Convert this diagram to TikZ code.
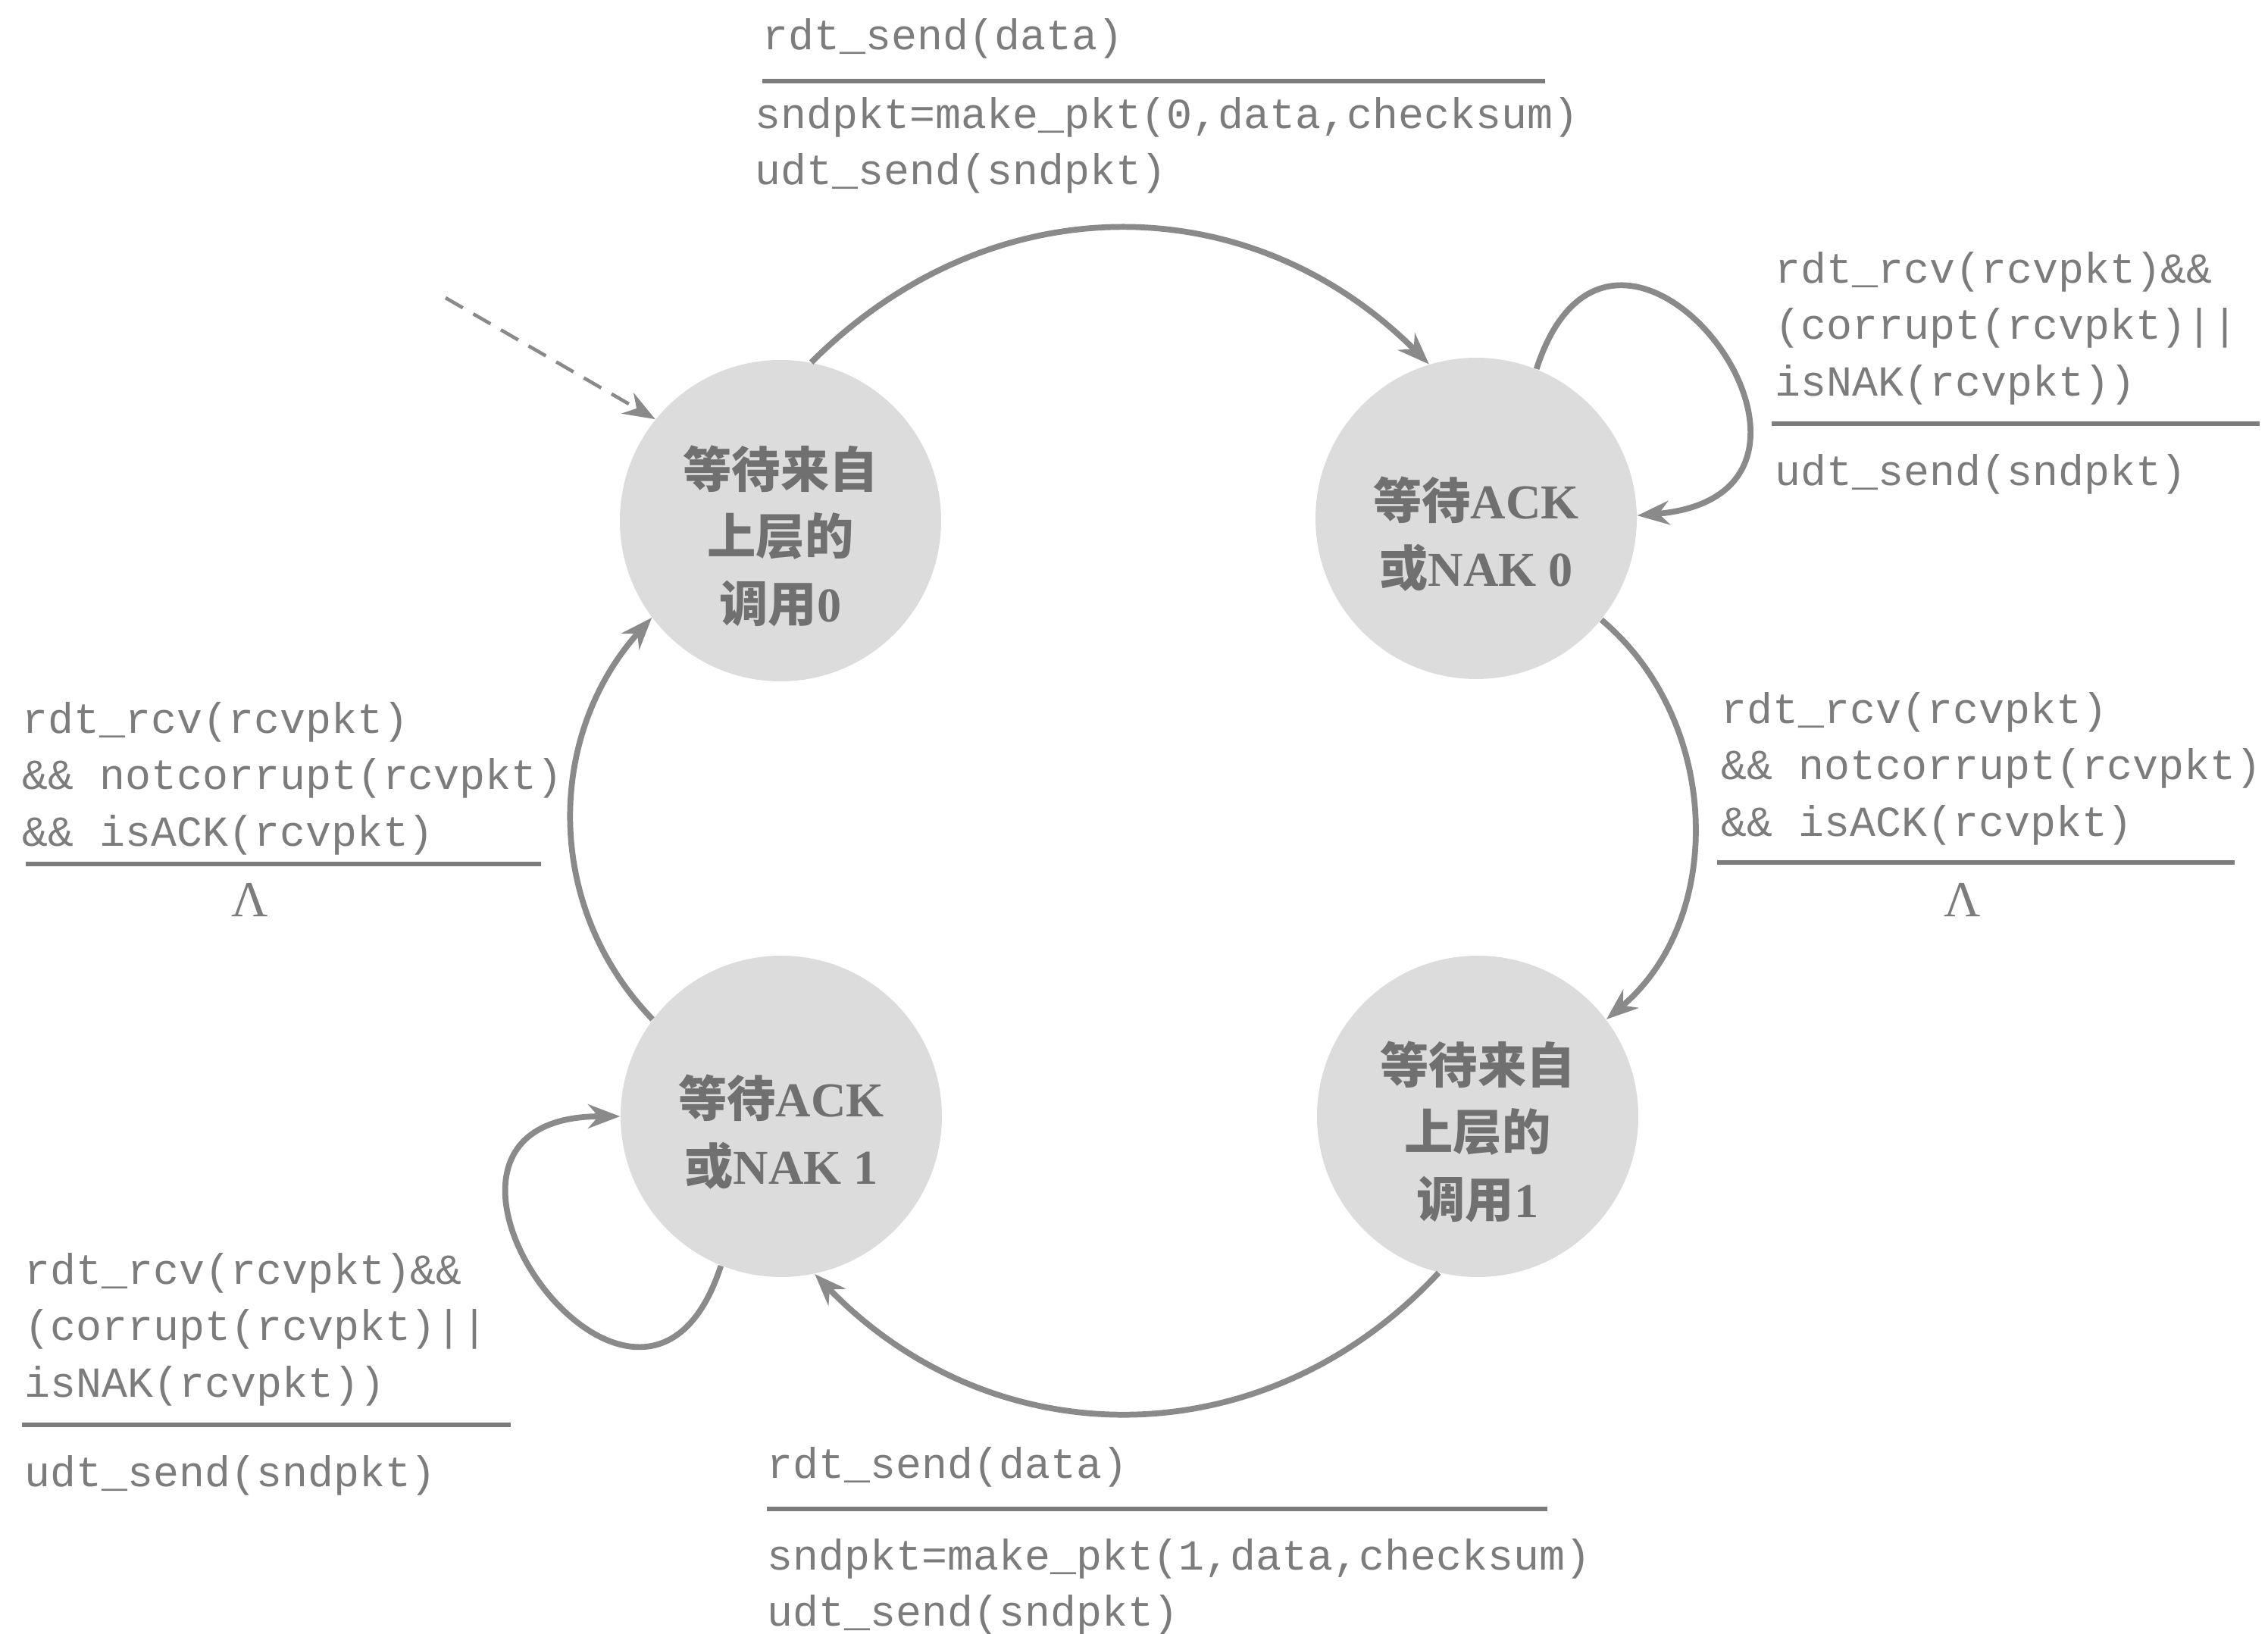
\documentclass[tikz,border=0pt]{standalone}
\usepackage{fontspec}
\setmainfont{Liberation Serif}
\setmonofont{Liberation Mono}
\newfontfamily\cjk{Noto Sans CJK SC}
\usetikzlibrary{arrows.meta,positioning}
\definecolor{fsmGray}{HTML}{8A8A8A}
\definecolor{fsmText}{HTML}{7C7C7C}
\definecolor{fsmFill}{HTML}{DCDCDC}
\definecolor{fsmInk}{HTML}{707070}
% push the state text a little below the centre
\newcommand{\sttop}{\rule{0pt}{1.5em}}

\begin{document}
\begin{tikzpicture}[>={Stealth[length=12pt,width=9pt]},
  state/.style={circle,fill=fsmFill,minimum size=4.24cm,inner sep=0pt,align=center,
    text=fsmInk,font=\fontsize{18.3}{25.2}\selectfont\bfseries},
  trans/.style={->,draw=fsmGray,line width=2.2pt},
  lbl/.style={anchor=west,align=left,inner sep=0pt,text=fsmText,
    font=\ttfamily\fontsize{16.1}{21.2}\selectfont},
  lam/.style={text=fsmText,inner sep=0pt,font=\fontsize{19}{20}\selectfont},
  rule/.style={draw=fsmText,line width=1.6pt}]
\useasboundingbox (0,0) rectangle (29.93,21.56);
% --- states ---
\node[state] (S0) at (10.30,14.69) {\sttop{\cjk 等待来自}\\{\cjk 上层的}\\{\cjk 调用}0};
\node[state] (S1) at (19.48,14.72) {\sttop{\cjk 等待}ACK\\{\cjk 或}NAK 0};
\node[state] (S2) at (19.50,6.83) {\sttop{\cjk 等待来自}\\{\cjk 上层的}\\{\cjk 调用}1};
\node[state] (S3) at (10.31,6.83) {\sttop{\cjk 等待}ACK\\{\cjk 或}NAK 1};
% --- transitions ---
\coordinate (init) at (5.88,17.63);
\draw[->,draw=fsmGray,line width=1.3pt,dash pattern=on 7.5pt off 4.5pt] (init) -- (S0.141);
\draw[trans] (S0.79) to[out=45,in=135,looseness=1.05] (S1.107);
\draw[trans] (S1.-39) to[out=-40,in=40] (S2.37);
\draw[trans] (S2.-104) to[out=-133,in=-46,looseness=1.05] (S3.-78);
\draw[trans] (S3.143) to[out=134,in=-132] (S0.-143);
\draw[trans] (S1.68) to[out=72,in=5,looseness=3.7] (S1.1);
\draw[trans] (S3.-112) to[out=252,in=180,looseness=3.7] (S3.180);
% --- labels ---
\node[lbl] (t0a) at (10.06,21.05) {rdt\_send(data)};
\node[lbl] (t0b) at (9.96,19.64) {sndpkt=make\_pkt(0,data,checksum)\\udt\_send(sndpkt)};
\node[lbl] (t1a) at (23.42,17.23) {rdt\_rcv(rcvpkt)\&\&\\(corrupt(rcvpkt)||\\isNAK(rcvpkt))};
\node[lbl] (t1b) at (23.42,15.30) {udt\_send(sndpkt)};
\node[lbl] (t2a) at (22.71,11.42) {rdt\_rcv(rcvpkt)\\\&\& notcorrupt(rcvpkt)\\\&\& isACK(rcvpkt)};
\node[lam] (t2b) at (25.90,9.69) {Λ};
\node[lbl] (t3a) at (10.12,2.20) {rdt\_send(data)};
\node[lbl] (t3b) at (10.12,0.62) {sndpkt=make\_pkt(1,data,checksum)\\udt\_send(sndpkt)};
\node[lbl] (t4a) at (0.32,4.02) {rdt\_rcv(rcvpkt)\&\&\\(corrupt(rcvpkt)||\\isNAK(rcvpkt))};
\node[lbl] (t4b) at (0.32,2.09) {udt\_send(sndpkt)};
\node[lbl] (t5a) at (0.29,11.29) {rdt\_rcv(rcvpkt)\\\&\& notcorrupt(rcvpkt)\\\&\& isACK(rcvpkt)};
\node[lam] (t5b) at (3.30,9.69) {Λ};
\foreach \xa/\xb/\y in {10.06/20.39/20.49, 23.38/29.82/15.97, 22.66/29.49/10.18,
  10.12/20.42/1.65, 0.29/6.74/2.76, 0.34/7.14/10.16}
  \draw[rule] (\xa,\y) -- (\xb,\y);
\end{tikzpicture}
\end{document}
